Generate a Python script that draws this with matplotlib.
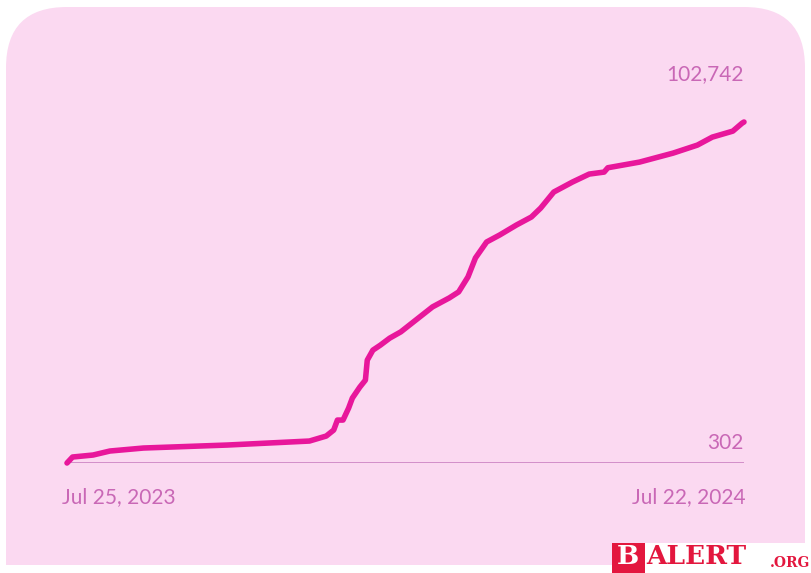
import numpy as np
import pandas as pd
from matplotlib import pyplot as plt
from matplotlib.patches import FancyBboxPatch, Rectangle

# days since Jul 25, 2023 and cumulative count
days = [0, 3, 14, 23, 41, 86, 130, 139, 143, 145, 148, 151, 153, 157, 160,
        161, 164, 168, 173, 179, 196, 205, 210, 215, 219, 225, 232, 241,
        249, 254, 261, 271, 280, 288, 290, 307, 325, 338, 346, 357, 362, 363]
counts = [302, 2100, 2700, 3900, 4800, 5700, 6900, 8400, 10200, 13200, 13200,
          16800, 19800, 23100, 25200, 31200, 34200, 35700, 37800, 39700,
          47200, 49900, 51700, 56200, 61900, 66700, 68800, 71800, 74200,
          76900, 81700, 84700, 87100, 87700, 89000, 90700, 93400, 95800,
          98200, 100000, 102400, 102742]
start_label = "Jul 25, 2023"
end_label = "Jul 22, 2024"
top_label = "102,742"
low_label = "302"

W, H = 811, 573
bg = "#fbd9f1"
line_col = "#e8179b"
text_col = "#c968b6"
wm_col = "#e3173e"

fig = plt.figure(figsize=(W / 100, H / 100), dpi=100)
fig.patch.set_facecolor("white")

# pink card, rounded on top only
card = FancyBboxPatch((6 / W, 8 / H), 799 / W, 558 / H,
                      boxstyle="round,pad=0,rounding_size=0.075",
                      transform=fig.transFigure, facecolor=bg, edgecolor="none",
                      mutation_aspect=W / H, zorder=-2)
fig.patches.append(card)
fig.patches.append(Rectangle((6 / W, 8 / H), 799 / W, 200 / H,
                             transform=fig.transFigure, facecolor=bg,
                             edgecolor="none", zorder=-2))

ax = fig.add_axes([67 / W, (H - 463) / H, 677 / W, 341 / H])
ax.set_facecolor("none")
d = pd.DataFrame({"day": days, "count": counts})
ax.plot(d["day"], d["count"], color=line_col, lw=4.0,
        solid_capstyle="round", solid_joinstyle="round", clip_on=False)
ax.axhline(counts[0], color="#c77abf", lw=1.1, zorder=0)
ax.set_xlim(0, days[-1])
ax.set_ylim(counts[0], counts[-1])
ax.axis("off")

font = dict(family=["Lato", "DejaVu Sans"], color=text_col, fontsize=15)
ax.text(1.0, 1.14, top_label, transform=ax.transAxes, ha="right",
        va="center", **font)
ax.text(1.0, 0.06, low_label, transform=ax.transAxes, ha="right",
        va="center", **font)
ax.text(-0.007, -0.1, start_label, transform=ax.transAxes, ha="left",
        va="center", **font)
ax.text(1.003, -0.1, end_label, transform=ax.transAxes, ha="right",
        va="center", **font)

# watermark in the corner
fig.patches.append(Rectangle((612 / W, 0), 199 / W, 30 / H,
                             transform=fig.transFigure, facecolor="white",
                             edgecolor="none", zorder=5))
fig.patches.append(Rectangle((612 / W, 0), 33 / W, 30 / H,
                             transform=fig.transFigure, facecolor=wm_col,
                             edgecolor="none", zorder=5))
fig.text(628 / W, 4 / H, "B", color="white", fontsize=19, zorder=6,
         fontweight="bold", family="DejaVu Serif", va="bottom", ha="center")
fig.text(646 / W, 4 / H, "ALERT", color=wm_col, fontsize=19, zorder=6,
         fontweight="bold", family="DejaVu Serif", va="bottom", ha="left")
fig.text(770 / W, 3 / H, ".ORG", color=wm_col, fontsize=10, zorder=6,
         fontweight="bold", family="DejaVu Serif", va="bottom", ha="left")

fig.savefig("out.png", dpi=100, facecolor="white")
